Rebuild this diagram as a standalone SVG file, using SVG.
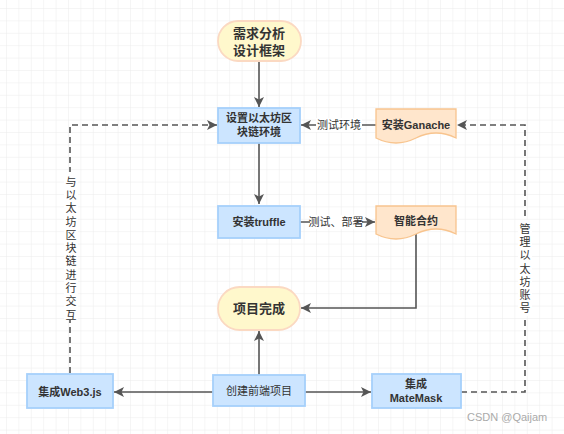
<svg xmlns="http://www.w3.org/2000/svg" width="564" height="434" viewBox="0 0 564 434">
<defs>
<pattern id="grid" x="6" y="8" width="12.4" height="12.4" patternUnits="userSpaceOnUse">
<path d="M0,0 V12.4 M0,0 H12.4" fill="none" stroke="#ececec" stroke-width="1"/>
</pattern>
<marker id="arr" viewBox="0 0 10 10" refX="10" refY="5" markerWidth="10" markerHeight="10" markerUnits="userSpaceOnUse" orient="auto">
<path d="M0,0 L10,5 L0,10 L2.5,5 Z" fill="#555"/>
</marker>
</defs>
<style>
.pill{fill:#fff8cc;stroke:#fbd9c2;stroke-width:1.8}
.blue{fill:#cce5ff;stroke:#a6d0fb;stroke-width:1.8}
.doc{fill:#ffe6cc;stroke:#f8c48e;stroke-width:1.3}
.t{font-family:"Liberation Sans","Noto Sans CJK SC",sans-serif;fill:#333;text-anchor:middle}
.b{font-weight:bold;font-size:11px}
.big{font-weight:bold;font-size:13px}
.lbl{font-size:11px}
.vt{font-family:"Noto Sans CJK SC",sans-serif;font-size:11px;fill:#333;writing-mode:vertical-rl;text-orientation:upright;letter-spacing:2.3px}
.ln{fill:none;stroke:#555;stroke-width:1.6}
.dash{fill:none;stroke:#555;stroke-width:1.6;stroke-dasharray:6 4}
.wm{font-family:"Liberation Sans",sans-serif;font-size:11px;fill:#aaa}
</style>
<rect width="564" height="434" fill="#fff"/>
<rect width="564" height="434" fill="url(#grid)"/>

<g id="connectors">
<path class="ln" d="M259,61 V107" marker-end="url(#arr)"/>
<path class="ln" d="M259,143 V204" marker-end="url(#arr)"/>
<path class="ln" d="M376,125 H301" marker-end="url(#arr)"/>
<rect x="316" y="118" width="46" height="14" fill="#fff"/>
<text class="t lbl" x="339" y="129">测试环境</text>
<path class="ln" d="M300,222 H375" marker-end="url(#arr)"/>
<rect x="310" y="215" width="52" height="14" fill="#fff"/>
<text class="t lbl" x="336" y="226">测试、部署</text>
<path class="ln" d="M416,234 V308 H301" marker-end="url(#arr)"/>
<path class="ln" d="M259,375 V331" marker-end="url(#arr)"/>
<path class="ln" d="M213,392 H114" marker-end="url(#arr)"/>
<path class="ln" d="M305,392 H371" marker-end="url(#arr)"/>
<path class="dash" d="M70,373 V125 H217" marker-end="url(#arr)"/>
<path class="dash" d="M461,392 H525 V125 H457" marker-end="url(#arr)"/>
<rect x="64" y="172" width="14" height="148" fill="#fff"/>
<text class="vt" x="71" y="176">与以太坊区块链进行交互</text>
<rect x="518" y="220" width="14" height="96" fill="#fff"/>
<text class="vt" x="525" y="223">管理以太坊账号</text>
</g>

<g id="node-req">
<rect class="pill" x="218" y="21" width="83" height="40" rx="20"/>
<text class="t big" x="259" y="38"><tspan x="259">需求分析</tspan><tspan x="259" dy="17">设计框架</tspan></text>
</g>
<g id="node-env">
<rect class="blue" x="218" y="108" width="82" height="35"/>
<text class="t b" x="259" y="122"><tspan x="259">设置以太坊区</tspan><tspan x="259" dy="14">块链环境</tspan></text>
</g>
<g id="node-ganache">
<path class="doc" d="M376,109 H456 V138 Q436,128 416,138 Q396,148 376,138 Z"/>
<text class="t b" x="416" y="129">安装Ganache</text>
</g>
<g id="node-truffle">
<rect class="blue" x="218" y="206" width="82" height="32"/>
<text class="t b" x="259" y="226">安装truffle</text>
</g>
<g id="node-contract">
<path class="doc" d="M376,206 H456 V234 Q436,224 416,234 Q396,244 376,234 Z"/>
<text class="t b" x="416" y="225">智能合约</text>
</g>
<g id="node-done">
<rect class="pill" x="218" y="287" width="82" height="43" rx="21.5"/>
<text class="t big" x="259" y="313">项目完成</text>
</g>
<g id="node-front">
<rect class="blue" x="213" y="375" width="92" height="31"/>
<text class="t lbl" x="259" y="395">创建前端项目</text>
</g>
<g id="node-web3">
<rect class="blue" x="27" y="374" width="86" height="34"/>
<text class="t b" x="70" y="396">集成Web3.js</text>
</g>
<g id="node-metamask">
<rect class="blue" x="372" y="374" width="89" height="34"/>
<text class="t b" x="416" y="388"><tspan x="416">集成</tspan><tspan x="416" dy="14">MateMask</tspan></text>
</g>
<text class="wm" x="467" y="421">CSDN @Qaijam</text>
</svg>
